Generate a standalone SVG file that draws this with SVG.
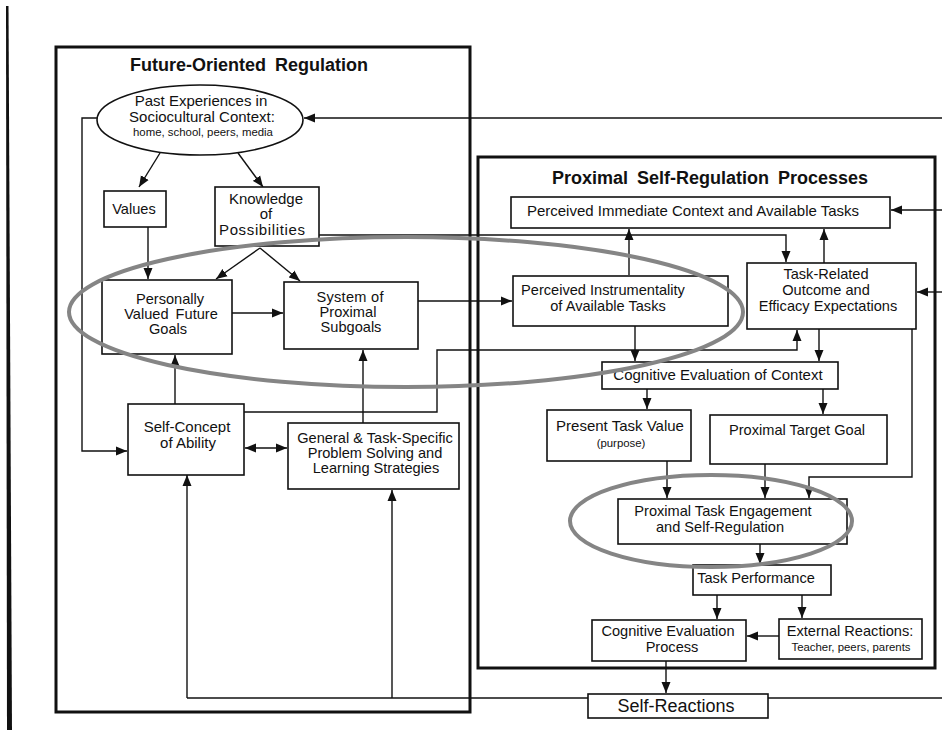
<svg xmlns="http://www.w3.org/2000/svg" width="942" height="730" viewBox="0 0 942 730">
<style>
  .box{fill:#fff;stroke:#111;stroke-width:1.6}
  .frame{fill:none;stroke:#111;stroke-width:3}
  .ln{fill:none;stroke:#111;stroke-width:1.4}
  .arr{marker-end:url(#ah)}
  .halo{fill:none;stroke:#858585;stroke-width:4}
  text{font-family:"Liberation Sans",Arial,sans-serif;fill:#111;text-anchor:middle}
  .t{font-size:15px}
  .u{font-size:14.6px}
  .s{font-size:11.4px}
  .h{font-size:18px;font-weight:bold;word-spacing:4px}
</style>
<defs>
  <marker id="ah" markerUnits="userSpaceOnUse" markerWidth="12" markerHeight="10" refX="11" refY="5" orient="auto-start-reverse" viewBox="0 0 12 10">
    <path d="M0,0.5 L11,5 L0,9.5 z" fill="#111"/>
  </marker>
</defs>
<rect width="942" height="730" fill="#fff"/>
<path d="M6,6 L8.5,6 L12,730 L7,730 z" fill="#111"/>

<g id="frames">
  <rect class="frame" x="56" y="47" width="414" height="665"/>
  <text class="h" x="249" y="71">Future-Oriented  Regulation</text>
  <rect class="frame" x="478" y="157" width="457" height="511"/>
  <text class="h" x="710" y="184">Proximal  Self-Regulation  Processes</text>
</g>

<g id="connectors">
  <path class="ln arr" d="M942,118 H304"/>
  <path class="ln arr" d="M160,153 L139,187"/>
  <path class="ln arr" d="M238,153 L263,187"/>
  <path class="ln arr" d="M98,118 H82 V451 H127"/>
  <path class="ln arr" d="M148,227 V279"/>
  <path class="ln arr" d="M260,248 L216,279"/>
  <path class="ln arr" d="M260,248 L300,281"/>
  <path class="ln arr" d="M232,313 H283"/>
  <path class="ln arr" d="M175,404 V355"/>
  <path class="ln arr" style="marker-start:url(#ah)" d="M245,448 H287"/>
  <path class="ln arr" d="M363,423 V350"/>
  <path class="ln arr" d="M244,412 H437 V350 H797 V330"/>
  <path class="ln arr" d="M418,301 H512"/>
  <path class="ln arr" d="M319,235 H786 V262"/>
  <path class="ln arr" d="M942,210 H891"/>
  <path class="ln arr" d="M942,292 H917"/>
  <path class="ln arr" d="M629,275 V229"/>
  <path class="ln arr" d="M824,263 V229"/>
  <path class="ln arr" d="M635,326 V361"/>
  <path class="ln arr" d="M819,329 V361"/>
  <path class="ln arr" d="M647,389 V409"/>
  <path class="ln arr" d="M823,389 V414"/>
  <path class="ln arr" d="M667,461 V498"/>
  <path class="ln arr" d="M765,464 V498"/>
  <path class="ln arr" d="M912,329 V477 H809 V498"/>
  <path class="ln arr" d="M760,544 V564"/>
  <path class="ln arr" d="M717,595 V619"/>
  <path class="ln arr" d="M802,595 V618"/>
  <path class="ln arr" d="M779,636 H747"/>
  <path class="ln arr" d="M666,661 V693"/>
  <path class="ln" d="M588,698 H187"/>
  <path class="ln arr" d="M187,698 V475"/>
  <path class="ln arr" d="M392,698 V490"/>
  <path class="ln" d="M768,698 H942"/>
</g>

<g id="past-experiences">
  <ellipse cx="200" cy="120" rx="103" ry="35" fill="#fff" stroke="#111" stroke-width="1.6"/>
  <text class="t" x="201" y="106">Past Experiences in</text>
  <text class="t" x="202" y="122">Sociocultural Context:</text>
  <text class="s" x="203" y="136">home, school, peers, media</text>
</g>
<g id="values">
  <rect class="box" x="104" y="191" width="62" height="36"/>
  <text class="u" x="134" y="214">Values</text>
</g>
<g id="knowledge">
  <rect class="box" x="215" y="187" width="104" height="59"/>
  <text class="t" x="266" y="204" textLength="74">Knowledge</text>
  <text class="t" x="266" y="219">of</text>
  <text class="t" x="262" y="235" textLength="86">Possibilities</text>
</g>
<g id="personally-valued">
  <rect class="box" x="102" y="280" width="130" height="74"/>
  <text class="u" x="170" y="304">Personally</text>
  <text class="u" x="171" y="319" style="word-spacing:3px">Valued Future</text>
  <text class="u" x="168" y="334">Goals</text>
</g>
<g id="proximal-subgoals">
  <rect class="box" x="284" y="282" width="134" height="67"/>
  <text class="u" x="350" y="302" textLength="67">System of</text>
  <text class="u" x="348" y="317">Proximal</text>
  <text class="u" x="351" y="332">Subgoals</text>
</g>
<g id="self-concept">
  <rect class="box" x="128" y="404" width="116" height="71"/>
  <text class="t" x="187" y="432">Self-Concept</text>
  <text class="t" x="188" y="448">of Ability</text>
</g>
<g id="strategies">
  <rect class="box" x="288" y="423" width="171" height="66"/>
  <text class="u" x="375" y="443">General &amp; Task-Specific</text>
  <text class="u" x="375" y="458">Problem Solving and</text>
  <text class="u" x="376" y="473">Learning Strategies</text>
</g>
<g id="immediate-context">
  <rect class="box" x="511" y="197" width="379" height="31"/>
  <text class="t" x="693" y="216">Perceived Immediate Context and Available Tasks</text>
</g>
<g id="instrumentality">
  <rect class="box" x="513" y="276" width="215" height="50"/>
  <text class="u" x="603" y="295">Perceived Instrumentality</text>
  <text class="u" x="608" y="311">of Available Tasks</text>
</g>
<g id="expectations">
  <rect class="box" x="747" y="263" width="169" height="66"/>
  <text class="u" x="826" y="279">Task-Related</text>
  <text class="u" x="826" y="295">Outcome and</text>
  <text class="u" x="828" y="311">Efficacy Expectations</text>
</g>
<g id="cognitive-context">
  <rect class="box" x="602" y="362" width="236" height="27"/>
  <text class="t" x="718" y="380">Cognitive Evaluation of Context</text>
</g>
<g id="task-value">
  <rect class="box" x="547" y="410" width="144" height="51"/>
  <text class="t" x="620" y="431">Present Task Value</text>
  <text class="s" x="621" y="447">(purpose)</text>
</g>
<g id="target-goal">
  <rect class="box" x="710" y="415" width="177" height="49"/>
  <text class="u" x="797" y="435">Proximal Target Goal</text>
</g>
<g id="engagement">
  <rect class="box" x="618" y="499" width="229" height="45"/>
  <text class="u" x="723" y="516">Proximal Task Engagement</text>
  <text class="u" x="720" y="532">and Self-Regulation</text>
</g>
<g id="performance">
  <rect class="box" x="693" y="565" width="138" height="30"/>
  <text class="u" x="756" y="583">Task Performance</text>
</g>
<g id="cognitive-process">
  <rect class="box" x="592" y="620" width="154" height="41"/>
  <text class="u" x="668" y="636">Cognitive Evaluation</text>
  <text class="u" x="672" y="652">Process</text>
</g>
<g id="external-reactions">
  <rect class="box" x="779" y="619" width="143" height="40"/>
  <text class="u" x="850" y="636">External Reactions:</text>
  <text class="s" x="851" y="651">Teacher, peers, parents</text>
</g>
<g id="self-reactions">
  <rect class="box" x="588" y="694" width="180" height="24"/>
  <text x="676" y="712" style="font-size:18px">Self-Reactions</text>
</g>

<g id="highlights">
  <ellipse class="halo" cx="406" cy="312" rx="337" ry="75"/>
  <ellipse class="halo" cx="711" cy="521" rx="141" ry="46"/>
</g>
</svg>
